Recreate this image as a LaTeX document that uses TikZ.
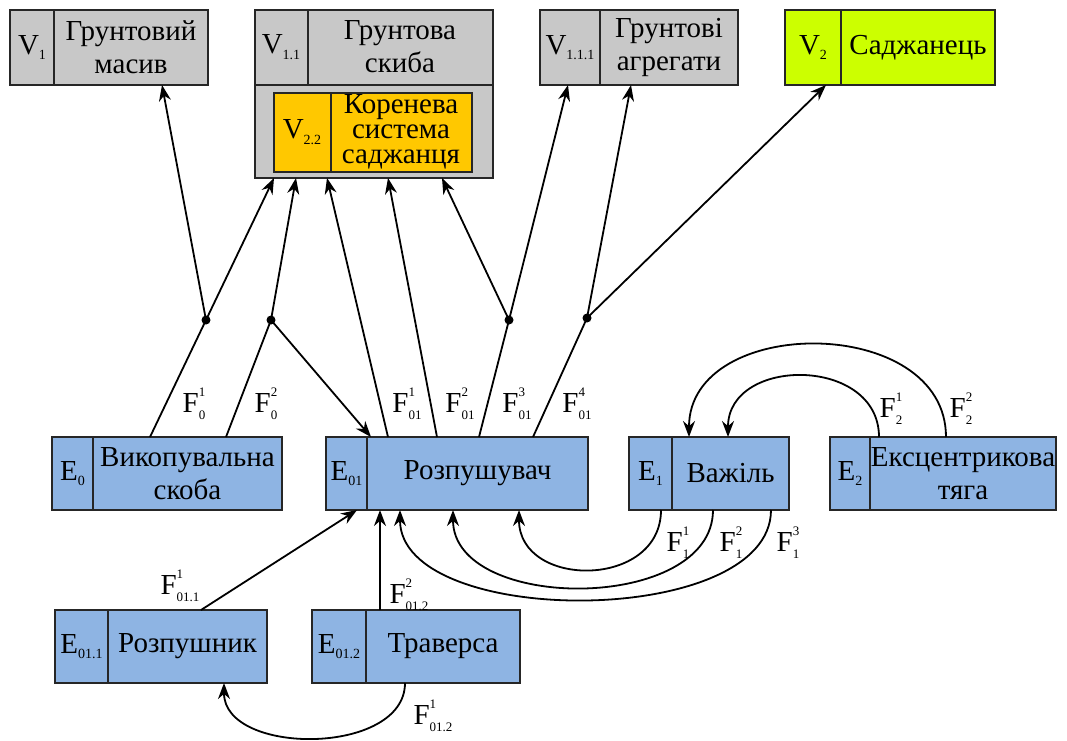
\documentclass[tikz,border=0pt]{standalone}
\usepackage{fontspec}
\setmainfont{Liberation Serif}
\usetikzlibrary{arrows.meta,calc}
\definecolor{vgrey}{HTML}{C8C8C8}
\definecolor{eblue}{HTML}{8EB4E3}
\definecolor{vorange}{HTML}{FFC800}
\definecolor{vlime}{HTML}{CCFF00}
\newcommand\sbs[1]{\raisebox{-0.4ex}{\fontsize{7}{7}\selectfont #1}}
\newcommand\FF[2]{F\rlap{\raisebox{1.15ex}{\fontsize{6.5}{6.5}\selectfont #1}}\raisebox{-0.55ex}{\fontsize{6.5}{6.5}\selectfont #2}}
\tikzset{
  box/.style={draw=black!85,line width=1.1pt,inner sep=0pt,outer sep=0pt},
  boxline/.style={draw=black!85,line width=1.1pt},
  txt/.style={font=\fontsize{14.5}{16.5}\selectfont,align=center,inner sep=0pt},
  txtsm/.style={font=\fontsize{14.5}{12.5}\selectfont,align=center,inner sep=0pt},
  flab/.style={font=\fontsize{14.5}{16.5}\selectfont,inner sep=0pt},
  ln/.style={line width=0.9pt},
  arr/.style={line width=0.9pt,-{Stealth[length=8pt,width=6pt]}},
  dot/.style={circle,fill=black,inner sep=0pt,minimum size=4.5pt}
}
\newcommand\twobox[9]{%
  \node[box,fill=#7,minimum width={(#4-#2)*0.5pt},minimum height={(#6-#5)*0.5pt}] (#1) at ({(#2+#4)/2},{(#5+#6)/2}) {};
  \draw[boxline] (#3,#5) -- (#3,#6);
  \node[txt] (#1-l) at ({(#2+#3)/2},{(#5+#6)/2}) {#8};
  \node[txt] (#1-t) at ({(#3+#4)/2},{(#5+#6)/2}) {#9};
}
\begin{document}
\begin{tikzpicture}[x=0.5pt,y=-0.5pt]
\useasboundingbox (0,0) rectangle (1067,740);
% top boxes
\twobox{V1}{10}{54}{208}{10}{85}{vgrey}{V\sbs{1}}{Грунтовий\\масив}
\node[box,fill=vgrey,minimum width={(493-255)*0.5pt},minimum height={(178-10)*0.5pt}] (V11) at ({(255+493)/2},{(10+178)/2}) {};
\draw[boxline] (255,85) -- (493,85);
\draw[boxline] (308,10) -- (308,85);
\node[txt] (V11-l) at (281,47) {V\sbs{1.1}};
\node[txt] (V11-t) at (400,47) {Грунтова\\скиба};
\node[box,fill=vorange,minimum width={(472-274)*0.5pt},minimum height={(172-93)*0.5pt}] (V22) at ({(274+472)/2},{(93+172)/2}) {};
\draw[boxline] (331,93) -- (331,172);
\node[txt] (V22-l) at (302,132) {V\sbs{2.2}};
\node[txtsm] (V22-t) at (401,132) {Коренева\\система\\саджанця};
\twobox{V111}{540}{600}{738}{10}{85}{vgrey}{V\sbs{1.1.1}}{Грунтові\\агрегати}
\twobox{V2}{785}{841}{995}{10}{85}{vlime}{V\sbs{2}}{Саджанець}
% middle boxes
\twobox{E0}{52}{93}{282}{437}{510}{eblue}{E\sbs{0}}{Викопувальна\\скоба}
\twobox{E01}{326}{367}{588}{437}{510}{eblue}{E\sbs{01}}{Розпушувач}
\twobox{E1}{629}{672}{789}{437}{510}{eblue}{E\sbs{1}}{Важіль}
\twobox{E2}{830}{870}{1056}{437}{510}{eblue}{E\sbs{2}}{Ексцентрикова\\тяга}
% bottom boxes
\twobox{E011}{55}{108}{267}{610}{683}{eblue}{E\sbs{01.1}}{Розпушник}
\twobox{E012}{312}{366}{520}{610}{683}{eblue}{E\sbs{01.2}}{Траверса}
% junctions
\node[dot] (d1) at (206,320) {};
\node[dot] (d2) at (271,320) {};
\node[dot] (d3) at (509,320) {};
\node[dot] (d4) at (587,318) {};
% E0 connectors
\draw[ln] (150,0 |- E0.north) -- (d1.center);
\draw[arr] (d1.center) -- (162,0 |- V1.south);
\draw[arr] (d1.center) -- (274,0 |- V11.south);
\draw[ln] (226,0 |- E0.north) -- (d2.center);
\draw[arr] (d2.center) -- (296,0 |- V11.south);
\draw[arr] (d2.center) -- (371,0 |- E01.north);
% E01 connectors
\draw[arr] (388,0 |- E01.north) -- (327,0 |- V11.south);
\draw[arr] (437,0 |- E01.north) -- (388,0 |- V11.south);
\draw[ln] (479,0 |- E01.north) -- (d3.center);
\draw[arr] (d3.center) -- (442,0 |- V11.south);
\draw[arr] (d3.center) -- (568,0 |- V111.south);
\draw[ln] (533,0 |- E01.north) -- (d4.center);
\draw[arr] (d4.center) -- (631,0 |- V111.south);
\draw[arr] (d4.center) -- (826,0 |- V2.south);
% E2 -> E1
\draw[arr] (879,0 |- E2.north) .. controls (879,356) and (728,356) .. (728,0 |- E1.north);
\draw[arr] (946,0 |- E2.north) .. controls (946,314) and (689,314) .. (689,0 |- E1.north);
% E1 -> E01
\draw[arr] (661,0 |- E1.south) .. controls (661,589) and (519,589) .. (519,0 |- E01.south);
\draw[arr] (713,0 |- E1.south) .. controls (713,613) and (453,613) .. (453,0 |- E01.south);
\draw[arr] (771,0 |- E1.south) .. controls (771,629) and (400,629) .. (400,0 |- E01.south);
% bottom connectors
\draw[arr] (201,0 |- E011.north) -- (357,0 |- E01.south);
\draw[arr] (380,0 |- E012.north) -- (380,0 |- E01.south);
\draw[arr] (405,0 |- E012.south) .. controls (405,756) and (224,756) .. (224,0 |- E011.south);
% labels
\node[flab] (l1) at (194,404) {\FF{1}{0}};
\node[flab] (l2) at (266,404) {\FF{2}{0}};
\node[flab] (l3) at (407,404) {\FF{1}{01}};
\node[flab] (l4) at (460,404) {\FF{2}{01}};
\node[flab] (l5) at (517,404) {\FF{3}{01}};
\node[flab] (l6) at (577,404) {\FF{4}{01}};
\node[flab] (l7) at (891,409) {\FF{1}{2}};
\node[flab] (l8) at (961,409) {\FF{2}{2}};
\node[flab] (l9) at (678,543) {\FF{1}{1}};
\node[flab] (l10) at (731,543) {\FF{2}{1}};
\node[flab] (l11) at (788,543) {\FF{3}{1}};
\node[flab] (l12) at (180,586) {\FF{1}{01.1}};
\node[flab] (l13) at (409,595) {\FF{2}{01.2}};
\node[flab] (l14) at (433,716) {\FF{1}{01.2}};
\end{tikzpicture}
\end{document}
